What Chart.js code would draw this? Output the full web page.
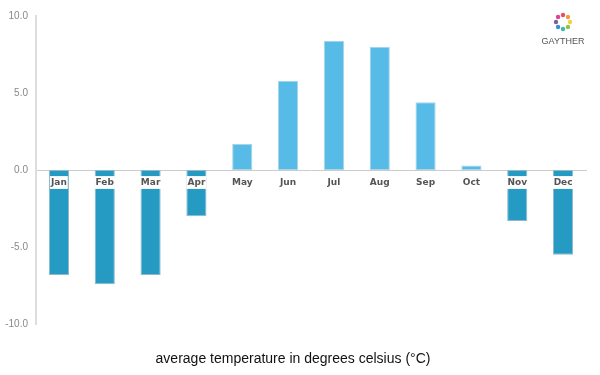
<!DOCTYPE html>
<html>
<head>
<meta charset="utf-8">
<script src="https://cdn.jsdelivr.net/npm/chart.js@4"></script>
<style>
  html, body { margin: 0; padding: 0; background: #fff; }
  #wrap { width: 600px; height: 375px; position: relative; }
</style>
</head>
<body>
<div id="wrap"><canvas id="tempChart"></canvas></div>
<script>
// average monthly temperature (°C)
const months = ['Jan', 'Feb', 'Mar', 'Apr', 'May', 'Jun', 'Jul', 'Aug', 'Sep', 'Oct', 'Nov', 'Dec'];
const temps = [-6.8, -7.4, -6.8, -3.0, 1.7, 5.8, 8.4, 8.0, 4.4, 0.3, -3.3, -5.5];
const yTicks = [-10, -5, 0, 5, 10];
const chartTitle = 'average temperature in degrees celsius (°C)';
const logoText = 'GAYTHER';

const warmColor = '#56bbe6';
const coldColor = '#259bc3';

// small logo in the top-right corner
const logoPlugin = {
  id: 'logo',
  afterDraw(chart) {
    const c = chart.ctx;
    const cx = 563, cy = 22, r = 7;
    const dots = ['#e94f64', '#f39c3c', '#f5d142', '#8cc63f', '#3fb8af', '#3b8ed0', '#7b5ea7', '#d9468f'];
    c.save();
    dots.forEach((col, i) => {
      const a = (i / dots.length) * Math.PI * 2 - Math.PI / 2;
      c.fillStyle = col;
      c.beginPath();
      c.arc(cx + Math.cos(a) * r, cy + Math.sin(a) * r, 2.2, 0, Math.PI * 2);
      c.fill();
    });
    c.fillStyle = '#555';
    c.font = '9px "Liberation Sans", sans-serif';
    c.textAlign = 'center';
    c.textBaseline = 'middle';
    c.fillText(logoText, cx, 42);
    c.restore();
  }
};

const ctx = document.getElementById('tempChart').getContext('2d');
const tempChart = new Chart(ctx, {
  type: 'bar',
  data: {
    labels: months,
    datasets: [{
      data: temps,
      backgroundColor: temps.map(v => v < 0 ? coldColor : warmColor),
      borderColor: temps.map(v => v < 0 ? '#8fb9c9' : '#a8d4e6'),
      borderWidth: 1,
      borderSkipped: false,
      barPercentage: 0.44,
      categoryPercentage: 1
    }]
  },
  options: {
    responsive: true,
    maintainAspectRatio: false,
    animation: false,
    layout: { padding: { top: 16, right: 14, left: 0, bottom: 3 } },
    plugins: {
      legend: { display: false },
      tooltip: { enabled: false },
      title: {
        display: true,
        position: 'bottom',
        text: chartTitle,
        color: '#111',
        font: { family: '"Liberation Sans", Arial, sans-serif', size: 14, weight: 'normal' },
        padding: { top: 27, bottom: 4 }
      }
    },
    scales: {
      x: {
        position: { y: 0 },
        grid: { display: false },
        border: { display: true, color: '#cccccc', width: 1 },
        ticks: {
          z: 1,
          color: '#555',
          font: { family: '"DejaVu Sans", sans-serif', size: 9, weight: 'bold' },
          padding: -1,
          showLabelBackdrop: true,
          backdropColor: '#ffffff',
          backdropPadding: { top: 1, bottom: 1, left: 1, right: 1 },
          maxRotation: 0
        }
      },
      y: {
        min: -10,
        max: 10,
        grid: { display: false },
        border: { display: true, color: '#dddddd', width: 2 },
        afterBuildTicks(axis) {
          axis.ticks = yTicks.map(v => ({ value: v }));
        },
        afterFit(axis) {
          axis.width = 36;
        },
        ticks: {
          color: '#888',
          font: { family: '"Liberation Sans", sans-serif', size: 10 },
          padding: 0,
          callback: v => v.toFixed(1)
        }
      }
    }
  },
  plugins: [logoPlugin]
});
</script>
</body>
</html>
